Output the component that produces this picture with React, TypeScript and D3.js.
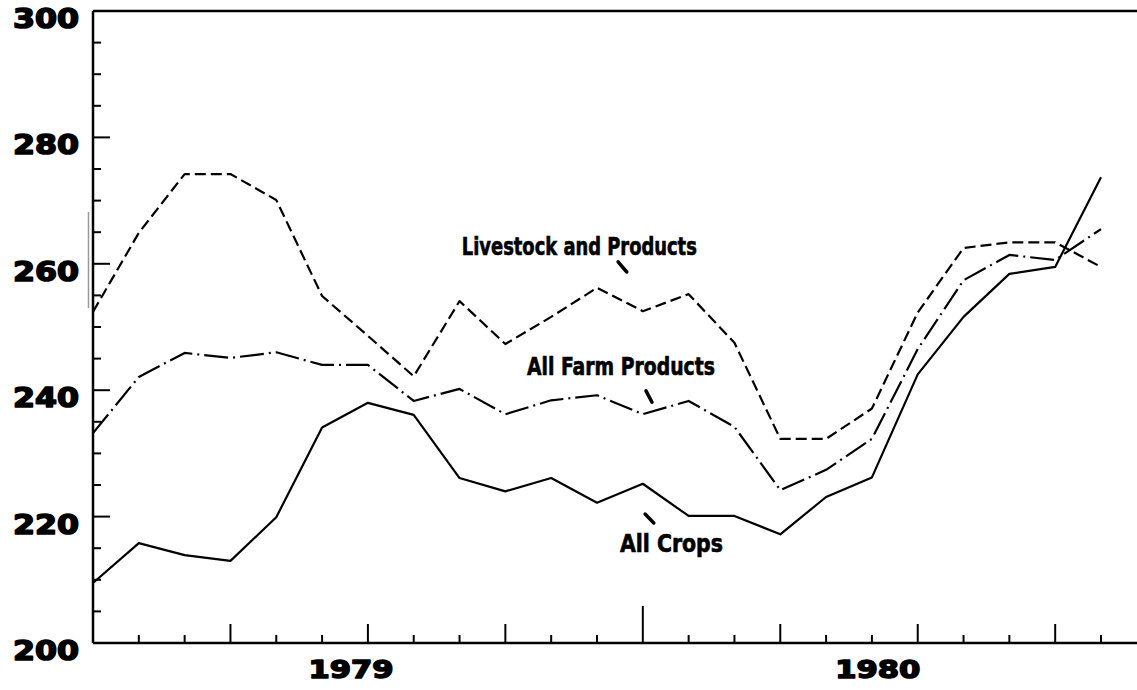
import React from "react";
import * as d3 from "d3";

// Monthly index: 0 = Jan 1979 ... 22 = Nov 1980
const months = d3.range(0, 23);
const allCrops = [209.5, 215.8, 213.9, 213.0, 219.9, 234.1, 238.0, 236.1, 226.1, 224.0, 226.1, 222.2, 225.2, 220.1, 220.1, 217.2, 223.1, 226.2, 242.5, 251.6, 258.4, 259.5, 273.7];
const livestock = [252.4, 264.9, 274.2, 274.2, 270.1, 254.9, 248.6, 242.2, 254.1, 247.3, 251.6, 256.2, 252.5, 255.2, 247.5, 232.3, 232.3, 237.1, 252.3, 262.5, 263.4, 263.4, 259.5];
const allFarm = [233.2, 242.1, 245.9, 245.1, 246.0, 244.0, 244.0, 238.3, 240.2, 236.2, 238.4, 239.2, 236.2, 238.3, 234.2, 224.2, 227.4, 232.3, 246.5, 257.4, 261.4, 260.6, 265.5];

const yMajorTicks = [200, 220, 240, 260, 280, 300];
const yMinorTicks = d3.range(200, 301, 5);
const yearLabels = [
  { label: "1979", at: 5.63 },
  { label: "1980", at: 17.13 },
];

const series = [
  { name: "Livestock and Products", values: livestock, dash: "11 5", label: { x: 8.05, y: 261.4, w: 235 }, pointer: [[11.46, 260.3], [11.65, 258.7]] },
  { name: "All Farm Products", values: allFarm, dash: "24 5 2 5", label: { x: 9.47, y: 242.4, w: 188 }, pointer: [[12.07, 239.9], [12.2, 238.1]] },
  { name: "All Crops", values: allCrops, dash: null, label: { x: 11.5, y: 214.4, w: 103 }, pointer: [[12.05, 220.4], [12.24, 219.0]] },
];

const W = 1137;
const H = 690;
const x = d3.scaleLinear().domain([0, 22]).range([93, 1101]);
const y = d3.scaleLinear().domain([200, 300]).range([643, 11]);
const right = 1137;

export default function App() {
  const line = d3
    .line<number>()
    .x((_, i) => x(months[i]))
    .y((d) => y(d));

  const digitFont = "'DejaVu Sans', 'Liberation Sans', sans-serif";
  const labelFont = "'Liberation Sans Narrow', 'DejaVu Sans Condensed', 'DejaVu Sans', sans-serif";

  return (
    <svg
      width={W}
      height={H}
      style={{ position: "absolute", left: 0, top: 0, background: "#fff" }}
    >
      <rect x={0} y={0} width={W} height={H} fill="#fff" />
      {/* scan artifact */}
      <line x1={88.5} y1={212} x2={88.5} y2={308} stroke="#999" strokeWidth={1.5} />

      {/* frame */}
      <line x1={x(0)} y1={y(300)} x2={right} y2={y(300)} stroke="#000" strokeWidth={2.5} />
      <line x1={x(0)} y1={y(300)} x2={x(0)} y2={y(200)} stroke="#000" strokeWidth={2.5} />
      <line x1={x(0)} y1={y(200)} x2={right} y2={y(200)} stroke="#000" strokeWidth={2.5} />

      {/* y ticks */}
      {yMinorTicks.map((v) => (
        <line
          key={"yt" + v}
          x1={x(0)}
          x2={x(0) + (v % 20 === 0 ? 17 : 8)}
          y1={y(v)}
          y2={y(v)}
          stroke="#000"
          strokeWidth={2}
        />
      ))}
      {yMajorTicks.map((v) => (
        <text
          key={"yl" + v}
          x={79}
          y={y(v) + 17}
          textAnchor="end"
          fontFamily={digitFont}
          fontWeight="bold"
          fontSize={27}
          textLength={66}
          lengthAdjust="spacingAndGlyphs"
          fill="#000"
          stroke="#000"
          strokeWidth={1.6}
          strokeLinejoin="round"
        >
          {v}
        </text>
      ))}

      {/* x ticks */}
      {months.slice(1).map((m) => {
        const h = m === 12 ? 37 : m % 3 === 0 ? 19 : 8;
        return (
          <line
            key={"xt" + m}
            x1={x(m)}
            x2={x(m)}
            y1={y(200)}
            y2={y(200) - h}
            stroke="#000"
            strokeWidth={2}
          />
        );
      })}
      {yearLabels.map((yl) => (
        <text
          key={yl.label}
          x={x(yl.at)}
          y={678}
          textAnchor="middle"
          fontFamily={digitFont}
          fontWeight="bold"
          fontSize={25}
          textLength={85}
          lengthAdjust="spacingAndGlyphs"
          fill="#000"
          stroke="#000"
          strokeWidth={1.6}
          strokeLinejoin="round"
        >
          {yl.label}
        </text>
      ))}

      {/* series */}
      {series.map((s) => (
        <g key={s.name}>
          <path
            d={line(s.values) || ""}
            fill="none"
            stroke="#000"
            strokeWidth={2.2}
            strokeDasharray={s.dash || undefined}
            strokeLinejoin="round"
          />
          <text
            x={x(s.label.x)}
            y={y(s.label.y)}
            fontFamily={labelFont}
            fontWeight="bold"
            fontSize={24}
            textLength={s.label.w}
            lengthAdjust="spacingAndGlyphs"
            fill="#000"
            stroke="#000"
            strokeWidth={0.6}
          >
            {s.name}
          </text>
          <line
            x1={x(s.pointer[0][0])}
            y1={y(s.pointer[0][1])}
            x2={x(s.pointer[1][0])}
            y2={y(s.pointer[1][1])}
            stroke="#000"
            strokeWidth={3.5}
            strokeLinecap="round"
          />
        </g>
      ))}
    </svg>
  );
}
